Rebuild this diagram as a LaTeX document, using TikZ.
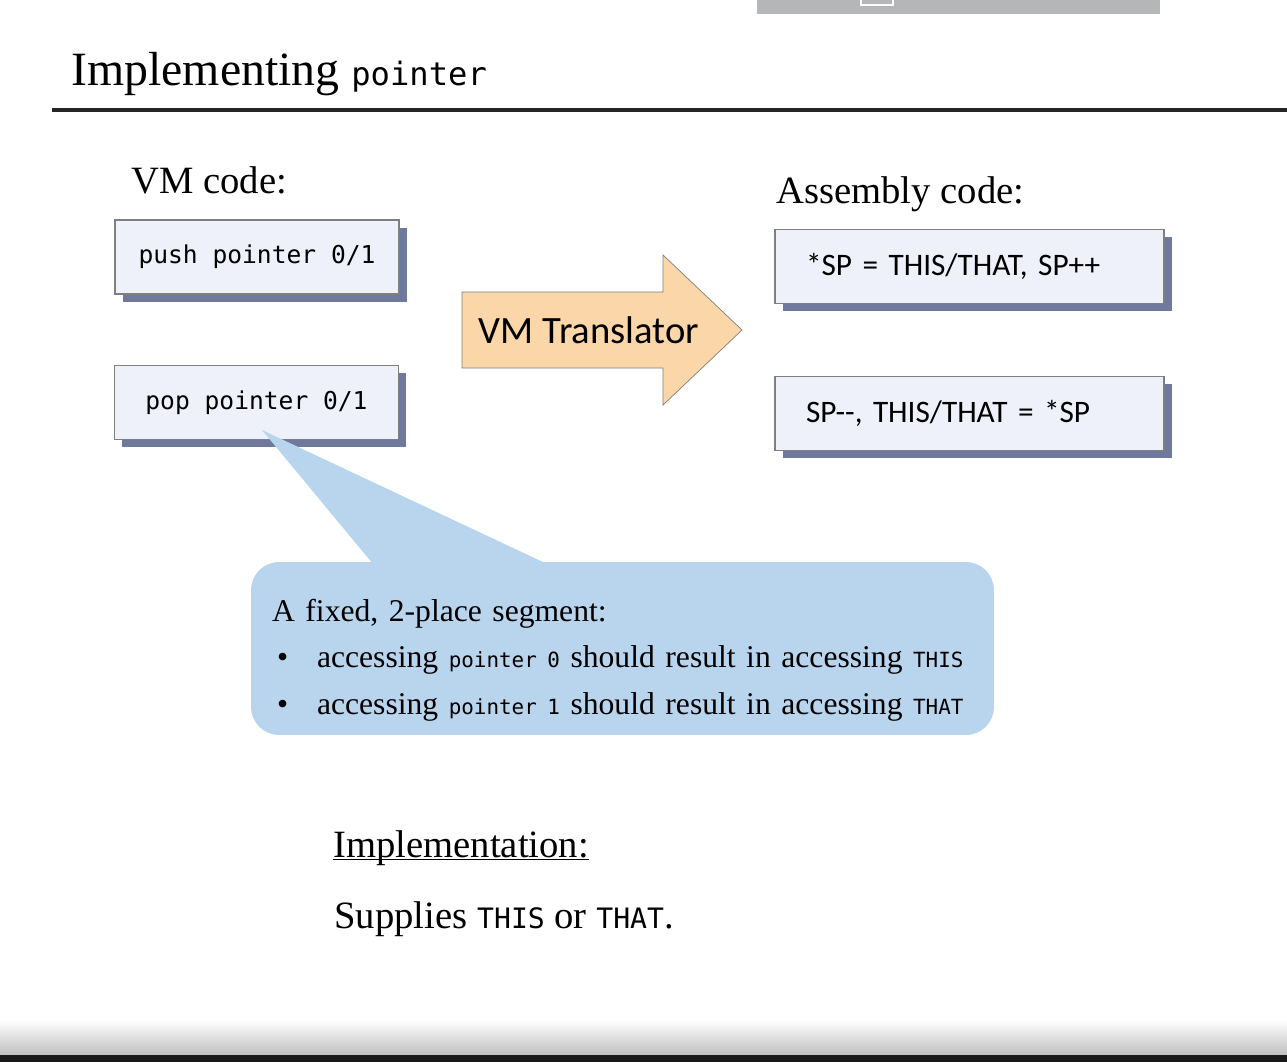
\documentclass[tikz,border=0pt]{standalone}
\usepackage{fontspec}
\setmainfont{Liberation Serif}
\setmonofont{DejaVu Sans Mono}
\newfontfamily\calfont{Carlito}
\usepackage{tikz}
\usetikzlibrary{positioning,shadows}
\definecolor{boxfill}{HTML}{EEF0FA}
\definecolor{boxline}{HTML}{7F7F7F}
\definecolor{boxshadow}{HTML}{3E4C7C}
\definecolor{xlatefill}{HTML}{FBD6A8}
\definecolor{calloutfill}{HTML}{B9D5EE}
\definecolor{barfill}{HTML}{B5B6B8}
\newcommand\smallmono{\fontsize{11.9}{26}\ttfamily}
\newcommand\uln[1]{\underline{\smash{#1}}}
\tikzset{
codebox/.style={draw=boxline, fill=boxfill, thick, minimum width=5.68cm, minimum height=1.48cm,
  font=\fontsize{14}{16}\ttfamily, drop shadow={shadow xshift=4.5pt, shadow yshift=-4.5pt, fill=boxshadow, opacity=.75}}, % VM boxes
asmbox/.style={codebox, minimum width=7.78cm, text width=6.54cm, inner xsep=0.62cm, align=left,
  font=\fontsize{17.8}{20}\calfont}, % assembly boxes
heading/.style={anchor=base west, inner sep=0, font=\fontsize{22}{26}\selectfont},
callout/.style={fill=calloutfill, rounded corners=0.56cm, minimum width=14.86cm, minimum height=3.46cm,
  text width=14.02cm, inner xsep=0.42cm, align=left, font=\fontsize{18}{26.5}\selectfont},
}

\begin{document}
\begin{tikzpicture}[x=0.02cm, y=-0.02cm]
    \useasboundingbox (0,0) rectangle (1287,1062);
    % player bar and title rule
    \fill[barfill] (757,0) rectangle (1160,14);
    \draw[white, thick] (861,-3) rectangle (893,5);
    \node[anchor=base west, inner sep=0, font=\fontsize{27.2}{30}\selectfont] at (71,85) (title) {Implementing {\fontsize{18.3}{20}\ttfamily pointer}};
    \draw[line width=1.8pt, black!85] (52,110) -- (1287,110);
    \node[heading] at (131,193) (vmhead) {VM code:};
    \node[heading] at (776,203) (asmhead) {Assembly code:};
    \node[codebox] at (257,257) (push) {push pointer 0/1};
    \node[codebox] at (256.5,402.5) (pop) {pop pointer 0/1};
    \node[asmbox] at (969.5,266.5) (asmpush) {*SP = THIS/THAT, SP++};
    \node[asmbox] at (969.5,413.5) (asmpop) {SP{-}{-}, THIS/THAT = *SP};
    % translator arrow
    \draw[boxline, fill=xlatefill] (462,292) -- (663,292) -- (663,255) -- (742,330) -- (663,405) -- (663,368) -- (462,368) -- cycle;
    \node[font=\fontsize{22}{24}\calfont] at (589,330) (xlate) {VM Translator};
    % callout
    \coordinate (tip) at (262,430);
    \fill[calloutfill] (tip) -- (378,570) -- (560,570) -- cycle;
    \node[callout] at (622.5,648.5) (note) {\rule{0pt}{26pt}A fixed, 2-place segment:\\
      \makebox[0.9cm][l]{\hspace{0.1cm}\textbullet}accessing {\smallmono pointer 0} should result in accessing {\smallmono THIS}\\
      \makebox[0.9cm][l]{\hspace{0.1cm}\textbullet}accessing {\smallmono pointer 1} should result in accessing {\smallmono THAT}};
    \node[heading] at (333,857) (impl) {\uln{Implementation:}};
    \node[heading] at (334,928) (supply) {Supplies {\fontsize{16}{18}\ttfamily THIS} or {\fontsize{16}{18}\ttfamily THAT}.};
    % bottom edge
    \shade[top color=white, bottom color=black!25] (0,1020) rectangle (1287,1055);
    \fill[black!90] (0,1055) rectangle (1287,1062);
\end{tikzpicture}
\end{document}
